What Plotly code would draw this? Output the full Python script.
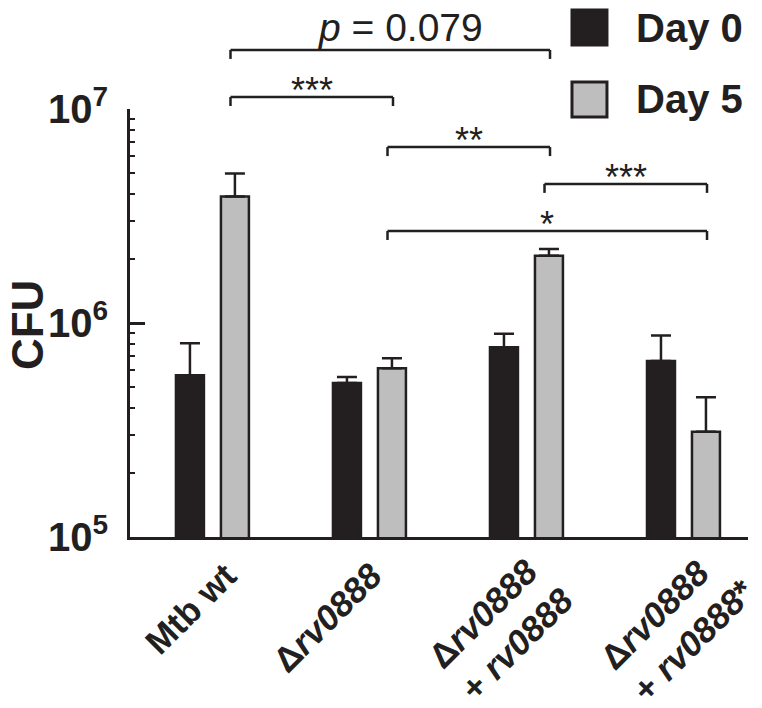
import plotly.graph_objects as go

# ---- data ----
groups = ["Mtb wt", "Δrv0888", "Δrv0888 + rv0888", "Δrv0888 + rv0888*"]
group_labels = ["Mtb wt",
                "Δ<i>rv0888</i>",
                "Δ<i>rv0888</i><br>+ <i>rv0888</i>",
                "Δ<i>rv0888</i><br>+ <i>rv0888</i>*"]
day0_cfu = [5.7e5, 5.25e5, 7.7e5, 6.65e5]
day0_err = [2.35e5, 0.35e5, 1.2e5, 2.1e5]
day5_cfu = [3.9e6, 6.15e5, 2.06e6, 3.1e5]
day5_err = [1.1e6, 0.7e5, 0.16e6, 1.4e5]
series_names = ["Day 0", "Day 5"]
y_title = "CFU"
y_tickvals = [1e5, 1e6, 1e7]
y_ticktext = ["10<sup>5</sup>", "10<sup>6</sup>", "10<sup>7</sup>"]
# significance comparisons: (from group, to group, label)
comparisons = [(0, 2, "<i>p</i> = 0.079"), (0, 1, "***"), (1, 2, "**"), (2, 3, "***"), (1, 3, "*")]

# ---- style / layout ----
DARK = "#231f20"
GRAY = "#bebebe"
FONT = "Liberation Sans, Arial, sans-serif"
x_idx = list(range(len(groups)))
minor_vals = [k * 10 ** e for e in (5, 6) for k in range(2, 10)]
bracket_levels = [1.138, 1.028, 0.911, 0.825, 0.715]   # paper y of each bracket
BR_L, BR_R = 0.115, 0.15                               # bracket end offsets from group centre
TICK_H = 0.021
label_dx = [-0.14, -0.27, -0.16, -0.04]                # label centre offsets (x units)
label_y = [-0.167, -0.188, -0.212, -0.205]

fig = go.Figure()
fig.add_trace(go.Bar(
    x=x_idx, y=day0_cfu, name=series_names[0],
    marker=dict(color=DARK, line=dict(color=DARK, width=2.5)),
    error_y=dict(type="data", symmetric=False, array=day0_err,
                 arrayminus=[0] * len(day0_err), color=DARK, thickness=2.5, width=10),
))
fig.add_trace(go.Bar(
    x=x_idx, y=day5_cfu, name=series_names[1],
    marker=dict(color=GRAY, line=dict(color=DARK, width=2.5)),
    error_y=dict(type="data", symmetric=False, array=day5_err,
                 arrayminus=[0] * len(day5_err), color=DARK, thickness=2.5, width=10),
))

shapes = []
annotations = []
for (a, b, txt), lvl in zip(comparisons, bracket_levels):
    xa, xb = a + BR_L, b + BR_R
    line = dict(color=DARK, width=2.5)
    shapes.append(dict(type="line", xref="x", yref="paper", x0=xa, x1=xb, y0=lvl, y1=lvl, line=line))
    shapes.append(dict(type="line", xref="x", yref="paper", x0=xa, x1=xa, y0=lvl - TICK_H, y1=lvl, line=line))
    shapes.append(dict(type="line", xref="x", yref="paper", x0=xb, x1=xb, y0=lvl - TICK_H, y1=lvl, line=line))
    is_p = txt.startswith("<i>p")
    annotations.append(dict(
        x=(xa + xb) / 2, y=lvl, xref="x", yref="paper", text=txt, showarrow=False,
        xanchor="center", yanchor="bottom", yshift=-1 if is_p else -16,
        xshift=10 if is_p else 0,
        font=dict(family=FONT, size=39 if is_p else 36, color=DARK)))

for i, lab in enumerate(group_labels):
    annotations.append(dict(
        x=i + label_dx[i], y=label_y[i], xref="x", yref="paper", text=lab, showarrow=False,
        textangle=-45, xanchor="center", yanchor="middle", align="left",
        font=dict(family=FONT, size=35, color=DARK, weight="bold")))

# y axis title
annotations.append(dict(x=-0.1667, y=0.495, xref="paper", yref="paper", text=y_title,
                        showarrow=False, textangle=-90, xanchor="center", yanchor="middle",
                        font=dict(family=FONT, size=44, color=DARK, weight="bold")))

# manual legend
legend_y = [1.1904, 1.0222]
legend_fill = [DARK, GRAY]
for name, ly, fc in zip(series_names, legend_y, legend_fill):
    shapes.append(dict(type="rect", xref="paper", yref="paper",
                       x0=0.7152, x1=0.7718, y0=ly - 0.0409, y1=ly + 0.0409,
                       fillcolor=fc, line=dict(color=DARK, width=3)))
    annotations.append(dict(x=0.816, y=ly, xref="paper", yref="paper", text=name,
                            showarrow=False, xanchor="left", yanchor="middle",
                            font=dict(family=FONT, size=40, color=DARK, weight="bold")))

fig.update_layout(
    width=762, height=708,
    margin=dict(l=130, r=14, t=109, b=171),
    plot_bgcolor="white", paper_bgcolor="white",
    barmode="group", bargap=0.427, bargroupgap=0.378,
    showlegend=False,
    font=dict(family=FONT, color=DARK),
    shapes=shapes, annotations=annotations,
    xaxis=dict(range=[-0.525, 3.411], showline=True, linecolor=DARK, linewidth=3,
               ticks="", showticklabels=False, showgrid=False, zeroline=False,
               automargin=False),
    yaxis=dict(type="log", range=[5, 7], showline=True, linecolor=DARK, linewidth=3,
               automargin=False,
               ticks="inside", ticklen=15, tickwidth=3, tickcolor=DARK,
               tickvals=y_tickvals, ticktext=y_ticktext, ticklabelstandoff=11,
               tickfont=dict(family=FONT, size=40, color=DARK, weight="bold"),
               showgrid=False, zeroline=False,
               minor=dict(ticks="inside", ticklen=5, tickwidth=2, tickcolor=DARK,
                          tickvals=minor_vals, showgrid=False)),
)

# remove the default 8px page margin so the figure fills the window exactly
fig.write_html("out.html", config={"displayModeBar": False},
               post_script="document.body.style.margin='0';")
